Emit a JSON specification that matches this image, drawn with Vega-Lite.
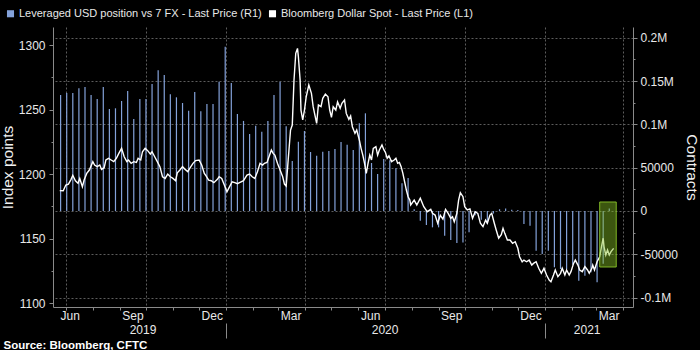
{
  "$schema": "https://vega.github.io/schema/vega-lite/v6.json",
  "width": 580,
  "height": 280,
  "autosize": "none",
  "padding": {"left": 53, "top": 27, "right": 67, "bottom": 43},
  "background": "#000000",
  "config": {
    "view": {"stroke": null},
    "font": "Liberation Sans",
    "axis": {
      "domainColor": "#8a8a8a",
      "tickColor": "#8a8a8a",
      "labelColor": "#e8e8e8",
      "labelFont": "Liberation Sans",
      "labelFontSize": 12,
      "titleColor": "#f2f2f2",
      "titleFont": "Liberation Sans",
      "titleFontWeight": "normal",
      "gridColor": "#5c5c5c",
      "gridDash": [2, 2],
      "labelOverlap": false,
      "labelFlush": false
    }
  },
  "datasets": {
    "positions": [
      {"date": "2019-06-25", "contracts": 134000},
      {"date": "2019-07-02", "contracts": 136300},
      {"date": "2019-07-09", "contracts": 136300},
      {"date": "2019-07-16", "contracts": 141700},
      {"date": "2019-07-23", "contracts": 143200},
      {"date": "2019-07-30", "contracts": 134000},
      {"date": "2019-08-06", "contracts": 129400},
      {"date": "2019-08-13", "contracts": 143200},
      {"date": "2019-08-20", "contracts": 117800},
      {"date": "2019-08-27", "contracts": 118600},
      {"date": "2019-09-03", "contracts": 127000},
      {"date": "2019-09-10", "contracts": 138600},
      {"date": "2019-09-17", "contracts": 106300},
      {"date": "2019-09-24", "contracts": 129400},
      {"date": "2019-10-01", "contracts": 129400},
      {"date": "2019-10-08", "contracts": 146700},
      {"date": "2019-10-15", "contracts": 162500},
      {"date": "2019-10-22", "contracts": 157100},
      {"date": "2019-10-29", "contracts": 134800},
      {"date": "2019-11-05", "contracts": 131300},
      {"date": "2019-11-12", "contracts": 124700},
      {"date": "2019-11-19", "contracts": 115800},
      {"date": "2019-11-26", "contracts": 137400},
      {"date": "2019-12-03", "contracts": 115100},
      {"date": "2019-12-10", "contracts": 123600},
      {"date": "2019-12-17", "contracts": 123600},
      {"date": "2019-12-24", "contracts": 149400},
      {"date": "2019-12-31", "contracts": 189800},
      {"date": "2020-01-07", "contracts": 147800},
      {"date": "2020-01-14", "contracts": 112000},
      {"date": "2020-01-21", "contracts": 104000},
      {"date": "2020-01-28", "contracts": 88900},
      {"date": "2020-02-04", "contracts": 98500},
      {"date": "2020-02-11", "contracts": 91600},
      {"date": "2020-02-18", "contracts": 104000},
      {"date": "2020-02-25", "contracts": 134000},
      {"date": "2020-03-03", "contracts": 149400},
      {"date": "2020-03-10", "contracts": 97800},
      {"date": "2020-03-17", "contracts": 57800},
      {"date": "2020-03-24", "contracts": 80000},
      {"date": "2020-03-31", "contracts": 92400},
      {"date": "2020-04-07", "contracts": 68100},
      {"date": "2020-04-14", "contracts": 63900},
      {"date": "2020-04-21", "contracts": 68500},
      {"date": "2020-04-28", "contracts": 69300},
      {"date": "2020-05-05", "contracts": 71600},
      {"date": "2020-05-12", "contracts": 79700},
      {"date": "2020-05-19", "contracts": 76600},
      {"date": "2020-05-26", "contracts": 70500},
      {"date": "2020-06-02", "contracts": 101300},
      {"date": "2020-06-09", "contracts": 112800},
      {"date": "2020-06-16", "contracts": 55400},
      {"date": "2020-06-23", "contracts": 42700},
      {"date": "2020-06-30", "contracts": 60000},
      {"date": "2020-07-07", "contracts": 58500},
      {"date": "2020-07-14", "contracts": 49300},
      {"date": "2020-07-21", "contracts": 32000},
      {"date": "2020-07-28", "contracts": 38100},
      {"date": "2020-08-04", "contracts": 2000},
      {"date": "2020-08-11", "contracts": -11200},
      {"date": "2020-08-18", "contracts": -16200},
      {"date": "2020-08-25", "contracts": -18900},
      {"date": "2020-09-01", "contracts": -18900},
      {"date": "2020-09-08", "contracts": -28500},
      {"date": "2020-09-15", "contracts": -33500},
      {"date": "2020-09-22", "contracts": -37000},
      {"date": "2020-09-29", "contracts": -36500},
      {"date": "2020-10-06", "contracts": -24600},
      {"date": "2020-10-13", "contracts": -5000},
      {"date": "2020-10-20", "contracts": -10000},
      {"date": "2020-10-27", "contracts": -15000},
      {"date": "2020-11-03", "contracts": -3000},
      {"date": "2020-11-10", "contracts": 2000},
      {"date": "2020-11-17", "contracts": 3000},
      {"date": "2020-11-24", "contracts": 1500},
      {"date": "2020-12-01", "contracts": 1000},
      {"date": "2020-12-08", "contracts": -15000},
      {"date": "2020-12-15", "contracts": -17000},
      {"date": "2020-12-22", "contracts": -45800},
      {"date": "2020-12-29", "contracts": -49700},
      {"date": "2021-01-05", "contracts": -45800},
      {"date": "2021-01-12", "contracts": -65000},
      {"date": "2021-01-19", "contracts": -67000},
      {"date": "2021-01-26", "contracts": -67000},
      {"date": "2021-02-02", "contracts": -62000},
      {"date": "2021-02-09", "contracts": -80500},
      {"date": "2021-02-16", "contracts": -74700},
      {"date": "2021-02-23", "contracts": -70800},
      {"date": "2021-03-02", "contracts": -82400},
      {"date": "2021-03-09", "contracts": -61000},
      {"date": "2021-03-16", "contracts": 3000}
    ],
    "dollar": [
      {"date": "2019-06-24", "index": 1187.1},
      {"date": "2019-06-28", "index": 1187.0},
      {"date": "2019-07-01", "index": 1191.5},
      {"date": "2019-07-04", "index": 1192.2},
      {"date": "2019-07-07", "index": 1195.9},
      {"date": "2019-07-09", "index": 1199.0},
      {"date": "2019-07-12", "index": 1194.8},
      {"date": "2019-07-15", "index": 1192.8},
      {"date": "2019-07-17", "index": 1196.6},
      {"date": "2019-07-20", "index": 1190.2},
      {"date": "2019-07-22", "index": 1195.3},
      {"date": "2019-07-25", "index": 1200.5},
      {"date": "2019-07-28", "index": 1203.1},
      {"date": "2019-08-01", "index": 1209.6},
      {"date": "2019-08-03", "index": 1207.0},
      {"date": "2019-08-06", "index": 1205.7},
      {"date": "2019-08-09", "index": 1207.0},
      {"date": "2019-08-11", "index": 1203.6},
      {"date": "2019-08-14", "index": 1204.9},
      {"date": "2019-08-16", "index": 1210.9},
      {"date": "2019-08-19", "index": 1212.2},
      {"date": "2019-08-22", "index": 1210.9},
      {"date": "2019-08-25", "index": 1209.6},
      {"date": "2019-08-28", "index": 1212.2},
      {"date": "2019-08-31", "index": 1216.2},
      {"date": "2019-09-03", "index": 1219.9},
      {"date": "2019-09-06", "index": 1213.4},
      {"date": "2019-09-09", "index": 1209.6},
      {"date": "2019-09-11", "index": 1210.9},
      {"date": "2019-09-14", "index": 1208.3},
      {"date": "2019-09-17", "index": 1209.6},
      {"date": "2019-09-20", "index": 1209.0},
      {"date": "2019-09-22", "index": 1212.2},
      {"date": "2019-09-25", "index": 1210.9},
      {"date": "2019-09-27", "index": 1217.3},
      {"date": "2019-09-30", "index": 1219.9},
      {"date": "2019-10-03", "index": 1218.1},
      {"date": "2019-10-06", "index": 1215.5},
      {"date": "2019-10-08", "index": 1217.3},
      {"date": "2019-10-11", "index": 1213.4},
      {"date": "2019-10-14", "index": 1209.6},
      {"date": "2019-10-17", "index": 1205.7},
      {"date": "2019-10-20", "index": 1197.9},
      {"date": "2019-10-23", "index": 1196.6},
      {"date": "2019-10-26", "index": 1200.0},
      {"date": "2019-10-29", "index": 1197.9},
      {"date": "2019-11-01", "index": 1196.6},
      {"date": "2019-11-04", "index": 1194.8},
      {"date": "2019-11-06", "index": 1201.0},
      {"date": "2019-11-09", "index": 1203.1},
      {"date": "2019-11-12", "index": 1205.7},
      {"date": "2019-11-15", "index": 1203.6},
      {"date": "2019-11-18", "index": 1201.8},
      {"date": "2019-11-21", "index": 1205.2},
      {"date": "2019-11-24", "index": 1208.3},
      {"date": "2019-11-27", "index": 1210.4},
      {"date": "2019-12-01", "index": 1210.9},
      {"date": "2019-12-04", "index": 1207.0},
      {"date": "2019-12-07", "index": 1200.5},
      {"date": "2019-12-09", "index": 1198.5},
      {"date": "2019-12-12", "index": 1195.3},
      {"date": "2019-12-15", "index": 1194.8},
      {"date": "2019-12-18", "index": 1193.3},
      {"date": "2019-12-22", "index": 1195.9},
      {"date": "2019-12-24", "index": 1197.9},
      {"date": "2019-12-27", "index": 1196.6},
      {"date": "2019-12-30", "index": 1191.5},
      {"date": "2020-01-02", "index": 1186.3},
      {"date": "2020-01-05", "index": 1190.2},
      {"date": "2020-01-08", "index": 1194.0},
      {"date": "2020-01-11", "index": 1193.3},
      {"date": "2020-01-14", "index": 1192.5},
      {"date": "2020-01-17", "index": 1193.5},
      {"date": "2020-01-21", "index": 1194.8},
      {"date": "2020-01-25", "index": 1199.2},
      {"date": "2020-01-28", "index": 1200.0},
      {"date": "2020-01-31", "index": 1197.9},
      {"date": "2020-02-03", "index": 1196.6},
      {"date": "2020-02-06", "index": 1201.8},
      {"date": "2020-02-09", "index": 1208.3},
      {"date": "2020-02-12", "index": 1207.0},
      {"date": "2020-02-14", "index": 1208.3},
      {"date": "2020-02-17", "index": 1209.0},
      {"date": "2020-02-20", "index": 1214.7},
      {"date": "2020-02-22", "index": 1218.6},
      {"date": "2020-02-24", "index": 1216.0},
      {"date": "2020-02-26", "index": 1214.7},
      {"date": "2020-02-29", "index": 1208.3},
      {"date": "2020-03-03", "index": 1203.1},
      {"date": "2020-03-06", "index": 1197.9},
      {"date": "2020-03-08", "index": 1192.2},
      {"date": "2020-03-10", "index": 1190.7},
      {"date": "2020-03-12", "index": 1208.3},
      {"date": "2020-03-15", "index": 1234.1},
      {"date": "2020-03-17", "index": 1238.0},
      {"date": "2020-03-19", "index": 1272.9},
      {"date": "2020-03-21", "index": 1293.6},
      {"date": "2020-03-23", "index": 1297.4},
      {"date": "2020-03-24", "index": 1291.0},
      {"date": "2020-03-26", "index": 1272.9},
      {"date": "2020-03-27", "index": 1249.6},
      {"date": "2020-03-29", "index": 1241.9},
      {"date": "2020-03-31", "index": 1249.6},
      {"date": "2020-04-02", "index": 1259.9},
      {"date": "2020-04-05", "index": 1269.0},
      {"date": "2020-04-08", "index": 1262.6},
      {"date": "2020-04-10", "index": 1252.2},
      {"date": "2020-04-12", "index": 1245.7},
      {"date": "2020-04-14", "index": 1239.3},
      {"date": "2020-04-16", "index": 1253.5},
      {"date": "2020-04-19", "index": 1252.2},
      {"date": "2020-04-21", "index": 1258.7},
      {"date": "2020-04-24", "index": 1262.0},
      {"date": "2020-04-27", "index": 1259.9},
      {"date": "2020-04-29", "index": 1249.6},
      {"date": "2020-05-01", "index": 1244.0},
      {"date": "2020-05-03", "index": 1252.2},
      {"date": "2020-05-06", "index": 1249.6},
      {"date": "2020-05-08", "index": 1256.0},
      {"date": "2020-05-11", "index": 1251.0},
      {"date": "2020-05-13", "index": 1254.8},
      {"date": "2020-05-16", "index": 1257.4},
      {"date": "2020-05-18", "index": 1247.0},
      {"date": "2020-05-21", "index": 1242.4},
      {"date": "2020-05-23", "index": 1245.0},
      {"date": "2020-05-25", "index": 1236.7},
      {"date": "2020-05-28", "index": 1231.5},
      {"date": "2020-05-30", "index": 1234.1},
      {"date": "2020-06-02", "index": 1226.4},
      {"date": "2020-06-04", "index": 1219.9},
      {"date": "2020-06-06", "index": 1214.7},
      {"date": "2020-06-08", "index": 1208.3},
      {"date": "2020-06-10", "index": 1200.5},
      {"date": "2020-06-12", "index": 1208.3},
      {"date": "2020-06-14", "index": 1214.7},
      {"date": "2020-06-16", "index": 1210.9},
      {"date": "2020-06-18", "index": 1219.9},
      {"date": "2020-06-21", "index": 1221.2},
      {"date": "2020-06-23", "index": 1214.7},
      {"date": "2020-06-25", "index": 1218.6},
      {"date": "2020-06-28", "index": 1222.5},
      {"date": "2020-06-30", "index": 1219.1},
      {"date": "2020-07-02", "index": 1216.7},
      {"date": "2020-07-04", "index": 1212.2},
      {"date": "2020-07-06", "index": 1214.0},
      {"date": "2020-07-09", "index": 1209.6},
      {"date": "2020-07-12", "index": 1210.9},
      {"date": "2020-07-14", "index": 1212.2},
      {"date": "2020-07-16", "index": 1208.3},
      {"date": "2020-07-18", "index": 1209.0},
      {"date": "2020-07-20", "index": 1205.7},
      {"date": "2020-07-22", "index": 1200.5},
      {"date": "2020-07-24", "index": 1194.0},
      {"date": "2020-07-26", "index": 1187.6},
      {"date": "2020-07-28", "index": 1182.4},
      {"date": "2020-07-30", "index": 1179.8},
      {"date": "2020-07-31", "index": 1176.0},
      {"date": "2020-08-04", "index": 1179.8},
      {"date": "2020-08-07", "index": 1176.0},
      {"date": "2020-08-11", "index": 1181.2},
      {"date": "2020-08-15", "index": 1174.7},
      {"date": "2020-08-19", "index": 1170.8},
      {"date": "2020-08-23", "index": 1172.6},
      {"date": "2020-08-25", "index": 1169.5},
      {"date": "2020-08-28", "index": 1168.2},
      {"date": "2020-08-31", "index": 1161.8},
      {"date": "2020-09-03", "index": 1168.0},
      {"date": "2020-09-06", "index": 1165.0},
      {"date": "2020-09-09", "index": 1172.6},
      {"date": "2020-09-12", "index": 1169.5},
      {"date": "2020-09-15", "index": 1165.7},
      {"date": "2020-09-17", "index": 1166.9},
      {"date": "2020-09-19", "index": 1163.0},
      {"date": "2020-09-22", "index": 1169.5},
      {"date": "2020-09-24", "index": 1179.8},
      {"date": "2020-09-26", "index": 1185.5},
      {"date": "2020-09-29", "index": 1182.4},
      {"date": "2020-10-01", "index": 1174.7},
      {"date": "2020-10-04", "index": 1172.1},
      {"date": "2020-10-07", "index": 1173.0},
      {"date": "2020-10-10", "index": 1165.7},
      {"date": "2020-10-13", "index": 1170.8},
      {"date": "2020-10-16", "index": 1169.5},
      {"date": "2020-10-19", "index": 1161.8},
      {"date": "2020-10-22", "index": 1159.2},
      {"date": "2020-10-25", "index": 1164.3},
      {"date": "2020-10-27", "index": 1161.8},
      {"date": "2020-10-30", "index": 1168.2},
      {"date": "2020-11-01", "index": 1169.5},
      {"date": "2020-11-04", "index": 1161.8},
      {"date": "2020-11-06", "index": 1157.0},
      {"date": "2020-11-09", "index": 1150.2},
      {"date": "2020-11-12", "index": 1153.0},
      {"date": "2020-11-14", "index": 1157.9},
      {"date": "2020-11-16", "index": 1154.0},
      {"date": "2020-11-19", "index": 1148.8},
      {"date": "2020-11-22", "index": 1148.8},
      {"date": "2020-11-25", "index": 1146.3},
      {"date": "2020-11-28", "index": 1147.5},
      {"date": "2020-12-01", "index": 1142.4},
      {"date": "2020-12-03", "index": 1135.9},
      {"date": "2020-12-06", "index": 1132.0},
      {"date": "2020-12-08", "index": 1133.3},
      {"date": "2020-12-11", "index": 1132.0},
      {"date": "2020-12-14", "index": 1133.3},
      {"date": "2020-12-17", "index": 1129.4},
      {"date": "2020-12-19", "index": 1130.7},
      {"date": "2020-12-22", "index": 1132.0},
      {"date": "2020-12-25", "index": 1126.9},
      {"date": "2020-12-28", "index": 1123.0},
      {"date": "2020-12-31", "index": 1126.9},
      {"date": "2021-01-03", "index": 1121.7},
      {"date": "2021-01-06", "index": 1117.8},
      {"date": "2021-01-08", "index": 1116.5},
      {"date": "2021-01-11", "index": 1121.7},
      {"date": "2021-01-13", "index": 1125.6},
      {"date": "2021-01-16", "index": 1120.4},
      {"date": "2021-01-19", "index": 1123.0},
      {"date": "2021-01-21", "index": 1126.9},
      {"date": "2021-01-24", "index": 1121.7},
      {"date": "2021-01-26", "index": 1125.6},
      {"date": "2021-01-29", "index": 1121.7},
      {"date": "2021-01-31", "index": 1124.3},
      {"date": "2021-02-03", "index": 1130.7},
      {"date": "2021-02-05", "index": 1133.3},
      {"date": "2021-02-08", "index": 1129.4},
      {"date": "2021-02-10", "index": 1125.6},
      {"date": "2021-02-13", "index": 1124.3},
      {"date": "2021-02-16", "index": 1128.2},
      {"date": "2021-02-19", "index": 1125.6},
      {"date": "2021-02-21", "index": 1123.0},
      {"date": "2021-02-24", "index": 1126.9},
      {"date": "2021-02-25", "index": 1129.4},
      {"date": "2021-02-27", "index": 1125.6},
      {"date": "2021-03-02", "index": 1132.0},
      {"date": "2021-03-05", "index": 1135.9},
      {"date": "2021-03-07", "index": 1143.6},
      {"date": "2021-03-09", "index": 1150.2},
      {"date": "2021-03-10", "index": 1143.6},
      {"date": "2021-03-12", "index": 1137.2},
      {"date": "2021-03-14", "index": 1141.1},
      {"date": "2021-03-16", "index": 1137.2},
      {"date": "2021-03-18", "index": 1139.8},
      {"date": "2021-03-21", "index": 1142.4}
    ]
  },
  "layer": [
    {
      "data": {"name": "positions"},
      "mark": {"type": "bar", "width": 1.2},
      "encoding": {
        "x": {
          "field": "date", "type": "temporal",
          "scale": {"type": "utc", "nice": false, "domain": [{"year": 2019, "month": 6, "date": 22, "utc": true}, {"year": 2021, "month": 4, "date": 6, "hours": 12, "utc": true}]},
          "axis": {
            "orient": "bottom", "title": null,
            "values": [
              {"year": 2019, "month": 6, "date": 22, "utc": true},
              {"year": 2019, "month": 7, "date": 1, "utc": true},
              {"year": 2019, "month": 8, "date": 1, "utc": true},
              {"year": 2019, "month": 9, "date": 1, "utc": true},
              {"year": 2019, "month": 10, "date": 1, "utc": true},
              {"year": 2019, "month": 11, "date": 1, "utc": true},
              {"year": 2019, "month": 12, "date": 1, "utc": true},
              {"year": 2020, "month": 1, "date": 1, "utc": true},
              {"year": 2020, "month": 2, "date": 1, "utc": true},
              {"year": 2020, "month": 3, "date": 1, "utc": true},
              {"year": 2020, "month": 4, "date": 1, "utc": true},
              {"year": 2020, "month": 5, "date": 1, "utc": true},
              {"year": 2020, "month": 6, "date": 1, "utc": true},
              {"year": 2020, "month": 7, "date": 1, "utc": true},
              {"year": 2020, "month": 8, "date": 1, "utc": true},
              {"year": 2020, "month": 9, "date": 1, "utc": true},
              {"year": 2020, "month": 10, "date": 1, "utc": true},
              {"year": 2020, "month": 11, "date": 1, "utc": true},
              {"year": 2020, "month": 12, "date": 1, "utc": true},
              {"year": 2021, "month": 1, "date": 1, "utc": true},
              {"year": 2021, "month": 2, "date": 1, "utc": true},
              {"year": 2021, "month": 3, "date": 1, "utc": true},
              {"year": 2021, "month": 4, "date": 1, "utc": true}
            ],
            "tickSize": 3,
            "labelPadding": 0,
            "labelAlign": "left",
            "labelBaseline": "top",
            "labelOffset": 2,
            "labelExpr": "utcdate(datum.value) != 1 || utcmonth(datum.value) % 3 == 2 ? utcFormat(datum.value, '%b') : ''",
            "tickOpacity": {"condition": {"test": "utcdate(datum.value) != 1", "value": 0}, "value": 1},
            "grid": true,
            "gridOpacity": {"condition": {"test": "utcdate(datum.value) == 1 && utcmonth(datum.value) % 3 == 0", "value": 1}, "value": 0}
          }
        },
        "y": {
          "field": "contracts", "type": "quantitative",
          "scale": {"domain": [-110900, 212500], "nice": false},
          "axis": {
            "orient": "right",
            "title": "Contracts",
            "titleFontSize": 15.5,
            "titlePadding": 6,
            "values": [-100000, -75000, -50000, -25000, 0, 25000, 50000, 75000, 100000, 125000, 150000, 175000, 200000],
            "labelExpr": "datum.value % 50000 == 0 ? (abs(datum.value) >= 100000 ? (datum.value / 1000000) + 'M' : '' + datum.value) : ''",
            "tickSize": {"condition": {"test": "datum.value % 50000 == 0", "value": 4}, "value": 2},
            "labelPadding": 3,
            "grid": true,
            "gridOpacity": {"condition": {"test": "datum.value % 50000 == 0", "value": 1}, "value": 0}
          }
        },
        "color": {
          "datum": "Leveraged USD position vs 7 FX - Last Price (R1)",
          "type": "nominal",
          "scale": {"domain": ["Leveraged USD position vs 7 FX - Last Price (R1)", "Bloomberg Dollar Spot - Last Price (L1)"], "range": ["#84a2da", "#ffffff"]},
          "legend": {
            "orient": "none", "legendX": -48, "legendY": -19,
            "direction": "horizontal", "title": null,
            "symbolType": "square", "symbolSize": 50, "symbolStrokeWidth": 0,
            "labelColor": "#e8e8e8", "labelFont": "Liberation Sans", "labelFontSize": 11,
            "labelOffset": 3, "labelLimit": 0, "columnPadding": 5, "padding": 0,
            "encode": {"symbols": {"update": {"fill": {"scale": "color", "field": "value"}, "fillOpacity": {"value": 1}}}}
          }
        }
      }
    },
    {
      "data": {"name": "dollar"},
      "mark": {"type": "line", "strokeWidth": 1.4},
      "encoding": {
        "x": {
          "field": "date", "type": "temporal",
          "scale": {"type": "utc", "nice": false, "domain": [{"year": 2019, "month": 6, "date": 22, "utc": true}, {"year": 2021, "month": 4, "date": 6, "hours": 12, "utc": true}]},
          "axis": {
            "orient": "bottom",
            "values": [
              {"year": 2019, "month": 9, "date": 27, "utc": true},
              {"year": 2020, "month": 7, "date": 1, "utc": true},
              {"year": 2021, "month": 2, "date": 18, "utc": true}
            ],
            "labelExpr": "utcFormat(datum.value, '%Y')",
            "ticks": false, "tickSize": 0, "domain": false, "grid": false,
            "labelPadding": 17, "labelAlign": "center", "labelBaseline": "top",
            "title": "Source: Bloomberg, CFTC",
            "titleX": -50, "titleY": 41, "titleAlign": "left", "titleBaseline": "alphabetic",
            "titleAngle": 0, "titleFontWeight": "bold", "titleFontSize": 11.5, "titleColor": "#ffffff"
          }
        },
        "y": {
          "field": "index", "type": "quantitative",
          "scale": {"domain": [1096.9, 1314], "nice": false},
          "axis": {
            "orient": "left",
            "title": "Index points",
            "titleFontSize": 15.5,
            "titlePadding": 3,
            "values": [1100, 1125, 1150, 1175, 1200, 1225, 1250, 1275, 1300],
            "labelExpr": "datum.value % 50 == 0 ? '' + datum.value : ''",
            "tickSize": {"condition": {"test": "datum.value % 50 == 0", "value": 4}, "value": 2},
            "labelPadding": 4,
            "grid": false
          }
        },
        "color": {"datum": "Bloomberg Dollar Spot - Last Price (L1)", "type": "nominal"}
      }
    },
    {
      "data": {"values": [{"start": "2021-03-05", "end": "2021-03-24", "upper": 10400, "lower": -64700}]},
      "mark": {"type": "rect", "fill": "#84bf24", "fillOpacity": 0.45, "stroke": "#8fce2a", "strokeOpacity": 0.85, "strokeWidth": 1},
      "encoding": {
        "x": {
          "field": "start", "type": "temporal",
          "scale": {"type": "utc", "nice": false, "domain": [{"year": 2019, "month": 6, "date": 22, "utc": true}, {"year": 2021, "month": 4, "date": 6, "hours": 12, "utc": true}]},
          "axis": {
            "orient": "bottom", "title": null,
            "values": [{"year": 2020, "month": 1, "date": 1, "utc": true}, {"year": 2021, "month": 1, "date": 1, "utc": true}],
            "offset": 16, "tickSize": 15, "labels": false, "domain": false, "grid": false
          }
        },
        "x2": {"field": "end"},
        "y": {"field": "upper", "type": "quantitative", "scale": {"domain": [-110900, 212500], "nice": false}, "axis": null},
        "y2": {"field": "lower"}
      }
    }
  ],
  "resolve": {"scale": {"y": "independent"}, "axis": {"x": "independent", "y": "independent"}}
}
